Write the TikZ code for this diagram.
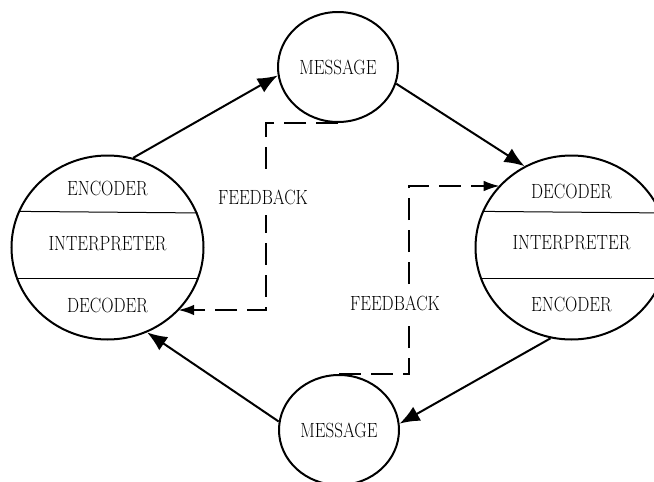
\documentclass[tikz,border=0pt]{standalone}
\usepackage{fontspec}
\setmainfont{Latin Modern Roman}[FakeStretch=0.83]
\usetikzlibrary{arrows.meta}
\usetikzlibrary{shapes.geometric}

\tikzset{
  bigcirc/.style={ellipse, draw, line width=1.5pt, minimum width=144pt, minimum height=138pt, inner sep=0pt},
  msg/.style={ellipse, draw, line width=1.5pt, minimum width=90pt, minimum height=82.5pt, inner sep=0pt},
  divider/.style={line width=0.75pt},
  flow/.style={-{Latex[length=15pt,width=12pt]}, line width=1.5pt},
  fb/.style={-{Latex[length=12pt,width=8pt]}, line width=1.5pt, dash pattern=on 16.5pt off 7.5pt},
  fblabel/.style={fill=white, inner xsep=2pt, inner ysep=8pt}
}

\begin{document}
\begin{tikzpicture}[x=0.75pt, y=-0.75pt, font=\fontsize{15.4}{18}\selectfont]
  \clip (0,0) rectangle (654,482);

  % the two parties
  \node[bigcirc] (L) at (107.5,247.5) {};
  \node[bigcirc] (R) at (571.5,247.5) {};
  \draw[divider] (L.158.8) -- (L.21.2);
  \draw[divider] (L.199.3) -- (L.-19.3);
  \draw[divider] (R.158.8) -- (R.21.2);
  \draw[divider] (R.199.3) -- (R.-19.3);

  \node (lenc) at (107.5,188) {ENCODER};
  \node (lint) at (107.5,244) {INTERPRETER};
  \node (ldec) at (107.5,305) {DECODER};
  \node (rdec) at (571.5,191) {DECODER};
  \node (rint) at (571.5,243) {INTERPRETER};
  \node (renc) at (571.5,304) {ENCODER};

  % messages
  \node[msg] (Mt) at (338,67) {MESSAGE};
  \node[msg] (Mb) at (339,430) {MESSAGE};

  \draw[flow] (L.74) -- (Mt.188);
  \draw[flow] (Mt.344) -- (R.120);
  \draw[flow] (R.257) -- (Mb.6);
  \draw[flow] (Mb.172) -- (L.295);

  % feedback loops
  \coordinate (fbl) at (266,310);
  \draw[fb] (Mt.south) -| (fbl) -- (fbl -| L.318);
  \node[fblabel] (fbtxt1) at (263,197) {FEEDBACK};
  \coordinate (fbr) at (409,186);
  \draw[fb] (Mb.north) -| (fbr) -- (fbr -| R.139);
  \node[fblabel] (fbtxt2) at (395,303) {FEEDBACK};
\end{tikzpicture}
\end{document}
